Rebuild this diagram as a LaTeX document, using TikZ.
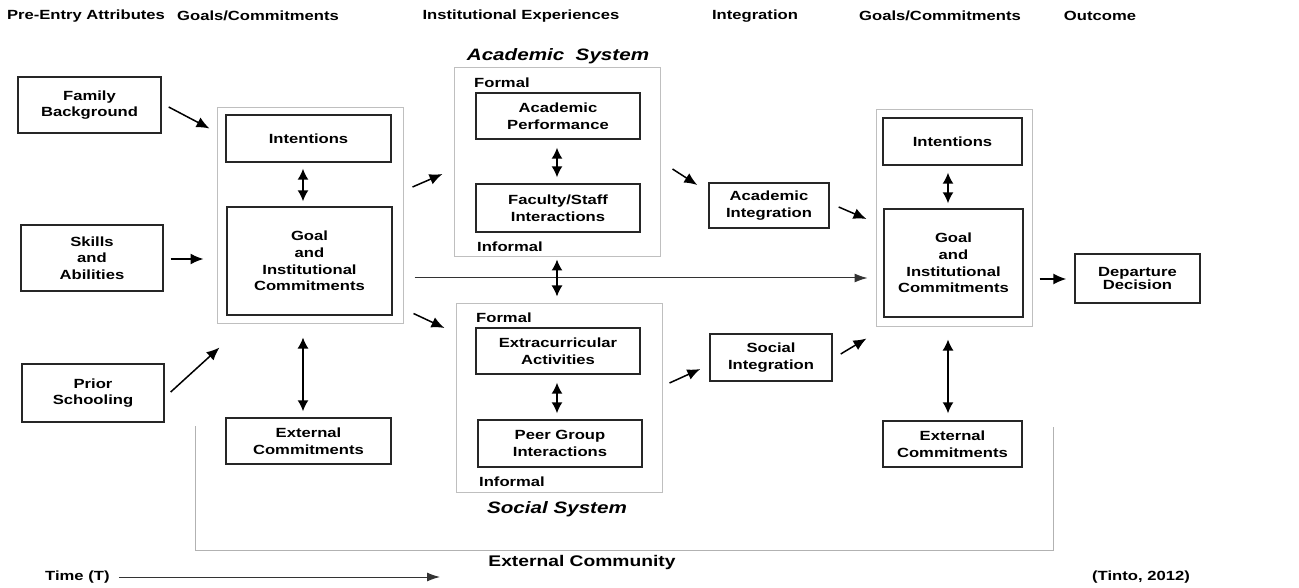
\documentclass[tikz,border=0pt]{standalone}
\usepackage{fontspec}
\setmainfont{Liberation Sans}[FakeStretch=1.25]
\usetikzlibrary{arrows.meta}
\tikzset{
  txt/.style={font=\fontsize{13.3}{16.7}\selectfont\bfseries, inner sep=0pt},
  head/.style={font=\fontsize{13.3}{15}\selectfont\bfseries, inner sep=0pt},
  title/.style={font=\fontsize{16.5}{18}\selectfont\bfseries\itshape, inner sep=0pt},
  box/.style={draw=black!85, line width=1.4pt, align=center, txt},
  grp/.style={draw=black!25, line width=1pt},
  frame/.style={draw=black!30, line width=1pt},
  arr/.style={line width=1.5pt, -{Latex[length=13pt,width=11pt]}},
  darr/.style={line width=1.5pt, {Latex[length=11pt,width=11pt]}-{Latex[length=11pt,width=11pt]}},
  thin/.style={line width=1pt, black!80, -{Latex[length=13pt,width=9pt]}},
}
\begin{document}
\begin{tikzpicture}[x=1pt,y=-1pt]
\useasboundingbox (0,0) rectangle (1299,588);
% headers
\node[head] (h1) at (86,16) {Pre-Entry Attributes};
\node[head] (h2) at (258,16) {Goals/Commitments};
\node[head] (h3) at (521,16) {Institutional Experiences};
\node[head] (h4) at (755,16) {Integration};
\node[head] (h5) at (940,16) {Goals/Commitments};
\node[head] (h6) at (1100,16) {Outcome};
% group frames
\node[grp, minimum width=186pt, minimum height=215pt] (lout) at (310,215.5) {};
\node[grp, minimum width=206pt, minimum height=189pt] (acad) at (557,162.5) {};
\node[grp, minimum width=206pt, minimum height=189pt] (soc) at (559,397.5) {};
\node[grp, minimum width=156pt, minimum height=216pt] (rout) at (954,218) {};
% external community frame
\coordinate (c1) at (195,426);
\coordinate (c2) at (195,550);
\coordinate (c3) at (1053,550);
\coordinate (c4) at (1053,427);
\draw[frame] (c1) -- (c2) -- (c3) -- (c4);
% pre-entry
\node[box, minimum width=143pt, minimum height=56pt] (fam) at (89.5,105) {Family\\Background};
\node[box, minimum width=142pt, minimum height=66pt] (skl) at (92,258) {Skills\\and\\Abilities};
\node[box, minimum width=142pt, minimum height=58pt] (pri) at (93,393) {Prior\\Schooling};
% left goals
\node[box, minimum width=165pt, minimum height=47pt] (lint) at (308.5,138.5) {Intentions};
\node[box, minimum width=165pt, minimum height=108pt] (lgoal) at (309.5,261) {Goal\\and\\Institutional\\Commitments};
\node[box, minimum width=165pt, minimum height=46pt] (lext) at (308.5,441) {External\\Commitments};
% academic system
\node[title] (ast) at (558,56) {Academic\ \ System};
\node[txt, anchor=west] (af) at (474,83) {Formal};
\node[box, minimum width=164pt, minimum height=46pt] (ap) at (558,116) {Academic\\Performance};
\node[box, minimum width=164pt, minimum height=48pt] (fs) at (558,208) {Faculty/Staff\\Interactions};
\node[txt, anchor=west] (ai1) at (477,247) {Informal};
% social system
\node[txt, anchor=west] (sf) at (476,318) {Formal};
\node[box, minimum width=164pt, minimum height=46pt] (ea) at (558,351) {Extracurricular\\Activities};
\node[box, minimum width=164pt, minimum height=47pt] (pg) at (560,443.5) {Peer Group\\Interactions};
\node[txt, anchor=west] (si1) at (479,482) {Informal};
\node[title] (sst) at (557,509) {Social System};
% integration
\node[box, minimum width=120pt, minimum height=45pt] (ai) at (769,205.5) {Academic\\Integration};
\node[box, minimum width=122pt, minimum height=47pt] (si) at (771,357.5) {Social\\Integration};
% right goals
\node[box, minimum width=139pt, minimum height=47pt] (rint) at (952.5,141.5) {Intentions};
\node[box, minimum width=139pt, minimum height=108pt] (rgoal) at (953.5,263) {Goal\\and\\Institutional\\Commitments};
\node[box, minimum width=139pt, minimum height=46pt] (rext) at (952.5,444) {External\\Commitments};
% outcome
\node[box, minimum width=125pt, minimum height=49pt, font=\fontsize{13.3}{12.5}\selectfont\bfseries] (dep) at (1137.5,278.5) {Departure\\Decision};
% bottom texts
\node[head, font=\fontsize{15.4}{17}\selectfont\bfseries] (ec) at (582,563) {External Community};
\node[txt, anchor=west] (time) at (45,577) {Time (T)};
\coordinate (tend) at (440,577);
\node[txt, anchor=east] (tinto) at (1190,577) {(Tinto, 2012)};
% arrows
\draw[thin] (time.east) ++(9,0) -- (tend);
\draw[arr] ([shift={(7,2)}]fam.east) -- ([shift={(-7,21)}]lout.north west);
\draw[arr] ([shift={(7,1)}]skl.east) -- ([shift={(-13,43.5)}]lout.west);
\draw[arr] ([shift={(6,-1)}]pri.east) -- ([shift={(3,24)}]lout.south west);
\draw[darr] ([shift={(-5.5,6)}]lint.south) -- ([shift={(-6.5,-5)}]lgoal.north);
\draw[darr] ([shift={(-7,14)}]lout.south) -- ([shift={(-5.5,-6)}]lext.north);
\draw[arr] ([shift={(9,-28.5)}]lout.east) -- ([shift={(-11,11.5)}]acad.west);
\draw[arr] ([shift={(10,-10)}]lout.south east) -- ([shift={(-11,-69.5)}]soc.west);
\draw[line width=1pt, black!80, -{Latex[length=13pt,width=9pt]}] ([shift={(11,62.5)}]lout.east) -- ([shift={(-8,60)}]rout.west);
\draw[darr] ([shift={(-1,8)}]ap.south) -- ([shift={(-1,-6)}]fs.north);
\draw[darr] ([shift={(0,2)}]acad.south) -- ([shift={(-2,-6)}]soc.north);
\draw[darr] ([shift={(-1,8)}]ea.south) -- ([shift={(-3,-6)}]pg.north);
\draw[arr] ([shift={(12,6.5)}]acad.east) -- ([shift={(-11,-20.5)}]ai.west);
\draw[arr] ([shift={(7,-14.5)}]soc.east) -- ([shift={(-9,11.5)}]si.west);
\draw[arr] ([shift={(9,1.5)}]ai.east) -- ([shift={(-9,1)}]rout.west);
\draw[arr] ([shift={(8,-3.5)}]si.east) -- ([shift={(-9,12)}]rout.south west);
\draw[darr] ([shift={(-4.5,7)}]rint.south) -- ([shift={(-5.5,-5)}]rgoal.north);
\draw[darr] ([shift={(-6,13)}]rout.south) -- ([shift={(-4.5,-7)}]rext.north);
\draw[arr] ([shift={(7,61)}]rout.east) -- ([shift={(-8,0.5)}]dep.west);
\end{tikzpicture}
\end{document}
